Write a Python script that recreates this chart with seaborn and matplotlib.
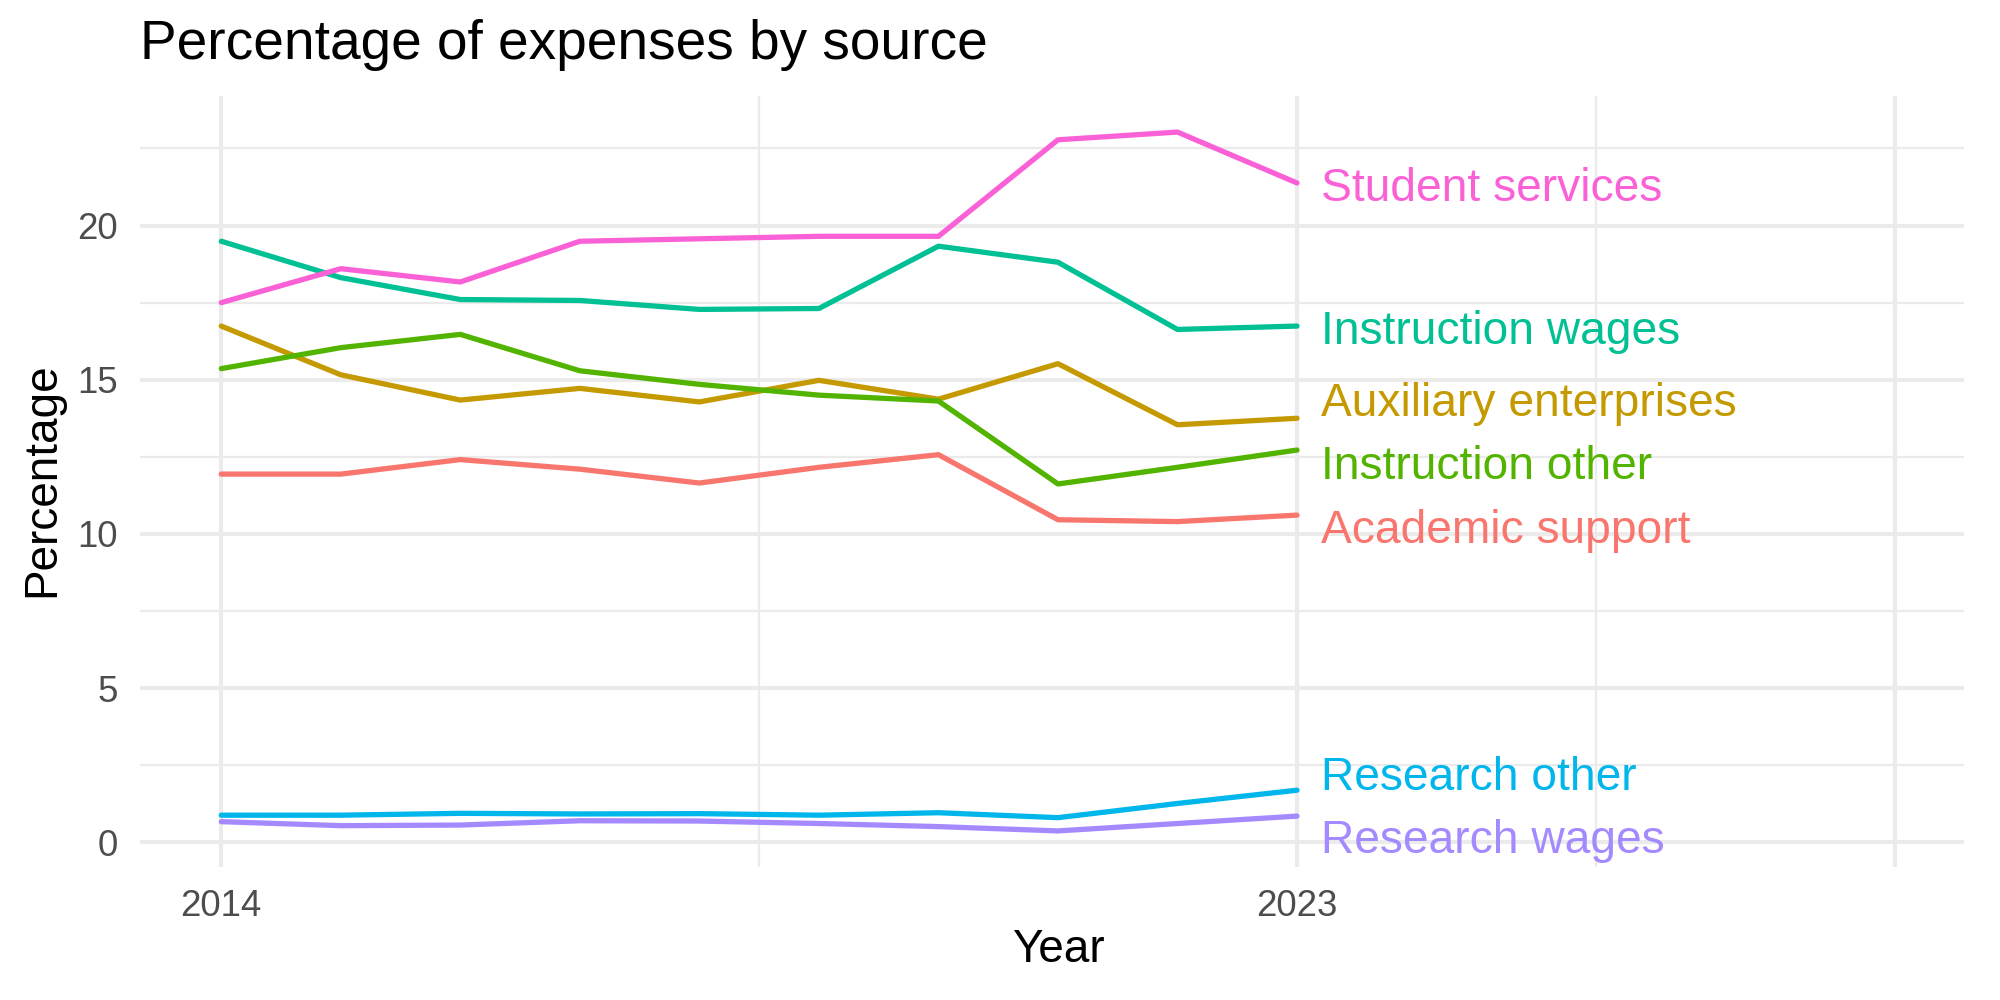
import matplotlib
matplotlib.use('Agg')
import matplotlib.pyplot as plt
import seaborn as sns
import pandas as pd
import numpy as np

# values (percent of expenses)
years = list(range(2014, 2024))
academic_support = [11.94, 11.94, 12.41, 12.10, 11.65, 12.16, 12.57, 10.46, 10.40, 10.61]
auxiliary_enterprises = [16.74, 15.16, 14.34, 14.72, 14.28, 14.98, 14.37, 15.52, 13.54, 13.75]
instruction_other = [15.36, 16.04, 16.47, 15.29, 14.85, 14.50, 14.31, 11.62, 12.16, 12.72]
instruction_wages = [19.49, 18.31, 17.60, 17.57, 17.28, 17.31, 19.33, 18.81, 16.63, 16.74]
research_other = [0.88, 0.88, 0.94, 0.92, 0.93, 0.88, 0.96, 0.80, 1.26, 1.69]
research_wages = [0.67, 0.54, 0.56, 0.70, 0.69, 0.61, 0.51, 0.37, 0.61, 0.85]
student_services = [17.50, 18.60, 18.17, 19.49, 19.57, 19.65, 19.65, 22.78, 23.03, 21.38]

sources = ['Academic support', 'Auxiliary enterprises', 'Instruction other',
           'Instruction wages', 'Research other', 'Research wages', 'Student services']
series = [academic_support, auxiliary_enterprises, instruction_other,
          instruction_wages, research_other, research_wages, student_services]
# ggplot2 default hue palette for 7 groups
colors = ['#F8766D', '#C49A00', '#53B400', '#00C094', '#00B6EB', '#A58AFF', '#FB61D7']

df = pd.DataFrame({
    'Year': years * len(sources),
    'Source': [s for s in sources for _ in years],
    'Percentage': [v for vals in series for v in vals],
})
palette = dict(zip(sources, colors))


def repel(values, gap):
    """Spread end labels apart so they don't overlap (clusters centred on mean)."""
    order = np.argsort(values)
    clusters = [[values[i]] for i in order]
    idx = [[i] for i in order]
    changed = True
    while changed:
        changed = False
        pos = []
        for c in clusters:
            m = np.mean(c)
            n = len(c)
            pos.append((m - gap * (n - 1) / 2, m + gap * (n - 1) / 2))
        for k in range(len(clusters) - 1):
            if pos[k + 1][0] - pos[k][1] < gap:
                clusters[k] = clusters[k] + clusters[k + 1]
                idx[k] = idx[k] + idx[k + 1]
                del clusters[k + 1], idx[k + 1]
                changed = True
                break
    out = np.zeros(len(values))
    for c, ii in zip(clusters, idx):
        m = np.mean(c)
        n = len(c)
        for j, i in enumerate(ii):
            out[i] = m - gap * (n - 1) / 2 + j * gap
    return out


sns.set_style('white')
plt.rcParams['font.family'] = ['Liberation Sans', 'DejaVu Sans']

fig = plt.figure(figsize=(10, 5), dpi=200)
ax = fig.add_axes([0.07, 0.133, 0.912, 0.771])

sns.lineplot(data=df, x='Year', y='Percentage', hue='Source', palette=palette,
             linewidth=1.9, legend=False, ax=ax, zorder=3)

# end-of-line labels
end_vals = [vals[-1] for vals in series]
label_y = repel(end_vals, 2.05) - 0.2
for src, ly in zip(sources, label_y):
    ax.text(years[-1] + 0.2, ly, src, color=palette[src], fontsize=16.6,
            va='center', ha='left', zorder=4)

ax.set_xlim(2013.32, 2028.58)
ax.set_ylim(-0.8, 24.2)
ax.set_xticks([2014, 2023, 2028])
ax.set_xticklabels(['2014', '2023', ''])
ax.set_xticks([2018.5, 2025.5], minor=True)
ax.set_yticks([0, 5, 10, 15, 20])
ax.set_yticks([2.5, 7.5, 12.5, 17.5, 22.5], minor=True)

ax.grid(which='major', color='#EBEBEB', linewidth=1.5, zorder=0)
ax.grid(which='minor', color='#EBEBEB', linewidth=0.8, zorder=0)
ax.set_axisbelow(True)
for s in ax.spines.values():
    s.set_visible(False)
ax.tick_params(which='both', length=0, labelsize=13.2, labelcolor='#4D4D4D')
ax.tick_params(axis='y', pad=8)
ax.tick_params(axis='x', pad=8)

ax.set_xlabel('')
ax.set_ylabel('')
fig.text(0.529, 0.05, 'Year', fontsize=16.5, color='black', ha='center', va='center')
fig.text(0.021, 0.52, 'Percentage', fontsize=16.5, color='black', ha='center',
         va='center', rotation=90)

fig.text(0.07, 0.955, 'Percentage of expenses by source', fontsize=19.8,
         ha='left', va='center', color='black')

plt.savefig('out.png', dpi=200)
plt.close()
